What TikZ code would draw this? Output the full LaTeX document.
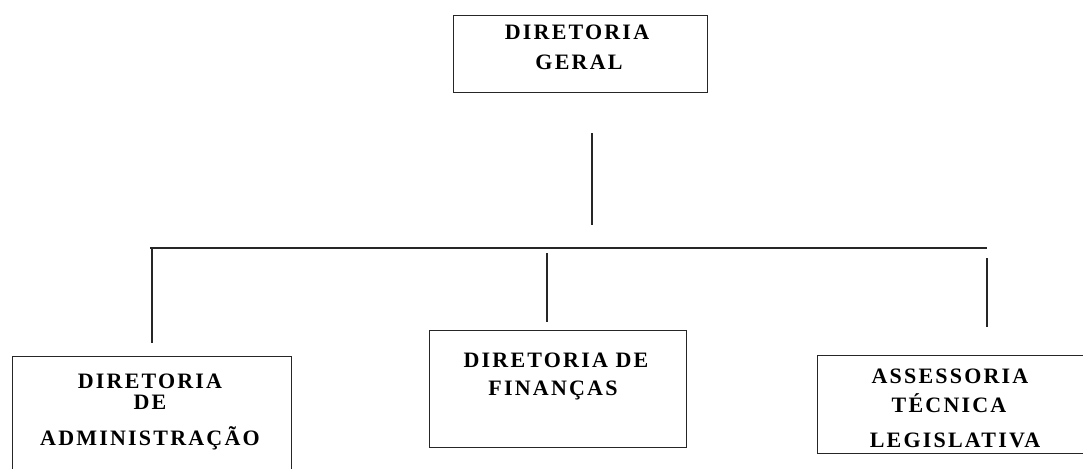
\documentclass[tikz,border=0pt]{standalone}
\usepackage{fontspec}
\setmainfont{Liberation Serif}[LetterSpace=10]
\begin{document}
\begin{tikzpicture}[x=1pt,y=-1pt,
  orgbox/.style={draw=black!85,line width=1pt},
  conn/.style={draw=black!85,line width=1.2pt},
  txt/.style={font=\fontsize{22}{26}\selectfont\bfseries,anchor=base,inner sep=0pt}]
\useasboundingbox (0,0) rectangle (1083,468);
\clip (0,0) rectangle (1083,468);
% boxes
\node[orgbox,minimum width=254pt,minimum height=77pt,anchor=north west] (geral) at (453,15) {};
\node[orgbox,minimum width=279pt,minimum height=125pt,anchor=north west] (adm) at (12,356) {};
\node[orgbox,minimum width=257pt,minimum height=117pt,anchor=north west] (fin) at (429,330) {};
\node[orgbox,minimum width=275pt,minimum height=98pt,anchor=north west] (ass) at (817,355) {};
% texts
\node[txt] (g1) at (577,40) {DIRETORIA};
\node[txt] (g2) at (579,70) {GERAL};
\node[txt] (a1) at (150,388) {DIRETORIA};
\node[txt] (a2) at (150,409) {DE};
\node[txt] (a3) at (150,445) {ADMINISTRAÇÃO};
\node[txt] (f1) at (556,367) {DIRETORIA DE};
\node[txt] (f2) at (553,395) {FINANÇAS};
\node[txt] (s1) at (950,383) {ASSESSORIA};
\node[txt] (s2) at (949,412) {TÉCNICA};
\node[txt] (s3) at (955,447) {LEGISLATIVA};
% connector coordinates
\coordinate (v0a) at (592,133);
\coordinate (v0b) at (592,225);
\coordinate (hl) at (150,248);
\coordinate (hr) at (987,248);
\coordinate (la) at (152,248);
\coordinate (lb) at (152,343);
\coordinate (ma) at (547,253);
\coordinate (mb) at (547,322);
\coordinate (ra) at (987,258);
\coordinate (rb) at (987,327);
\draw[conn] (v0a) -- (v0b);
\draw[conn] (hl) -- (hr);
\draw[conn] (la) -- (lb);
\draw[conn] (ma) -- (mb);
\draw[conn] (ra) -- (rb);
\end{tikzpicture}
\end{document}
